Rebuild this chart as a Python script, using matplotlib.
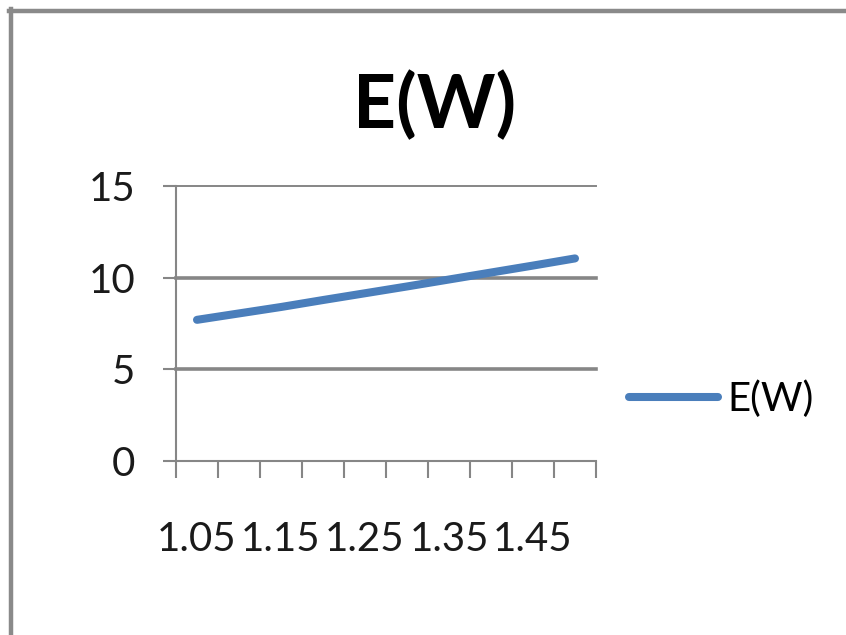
import matplotlib
matplotlib.use("Agg")
import matplotlib.pyplot as plt
from matplotlib.lines import Line2D

# Data
categories = ["1.05", "1.1", "1.15", "1.2", "1.25", "1.3", "1.35", "1.4", "1.45", "1.5"]
ew_values = [7.7, 8.05, 8.4, 8.78, 9.15, 9.52, 9.9, 10.28, 10.66, 11.05]
y_ticks = [0, 5, 10, 15]
series_name = "E(W)"
title_text = "E(W)"

W, H, DPI = 846, 635, 100
plt.rcParams["font.family"] = ["Lato", "DejaVu Sans"]

fig = plt.figure(figsize=(W / DPI, H / DPI), dpi=DPI)
fig.patch.set_facecolor("white")

# Plot area in pixel coordinates
left, right, top, bottom = 176, 596, 186, 461
ax = fig.add_axes([left / W, 1 - bottom / H, (right - left) / W, (bottom - top) / H])

grid_c = "#868686"
blue = "#4A7EBB"

x = list(range(len(categories)))
ax.plot(x, ew_values, color=blue, lw=5.8, solid_capstyle="round", label=series_name, zorder=3)

ax.set_xlim(-0.5, len(categories) - 0.5)
ax.set_ylim(0, 15)

# Horizontal gridlines
for v in y_ticks[1:]:
    ax.axhline(v, color=grid_c, lw=2.6 if v < 15 else 1.4, zorder=1, clip_on=False)

for s in ["top", "right"]:
    ax.spines[s].set_visible(False)
for s in ["left", "bottom"]:
    ax.spines[s].set_color(grid_c)
    ax.spines[s].set_linewidth(1.5)

ax.set_yticks(y_ticks)
ax.set_yticklabels([str(v) for v in y_ticks])
ax.tick_params(axis="y", length=9.5, width=1.5, color=grid_c, labelsize=29,
               pad=20, labelcolor="#1a1a1a")

# Category boundary ticks (major) and every-other label (minor)
ax.set_xticks([i - 0.5 for i in range(len(categories) + 1)])
ax.set_xticklabels([])
ax.set_xticks(x[::2], minor=True)
ax.set_xticklabels(categories[::2], minor=True)
ax.tick_params(axis="x", which="major", length=12, width=1.5, color=grid_c)
ax.tick_params(axis="x", which="minor", length=0, labelsize=29, pad=43, labelcolor="#1a1a1a")

# Title
fig.text(435 / W, 1 - 106 / H, title_text, ha="center", va="center",
         fontsize=54, fontweight="bold", color="black")

# Legend
ax.legend(loc="center left", bbox_to_anchor=(629 / W, 1 - 399 / H),
          bbox_transform=fig.transFigure, frameon=False, fontsize=29,
          handlelength=2.2, handletextpad=0.25, borderpad=0, borderaxespad=0)

# Chart frame (partially cropped)
fig.add_artist(Line2D([10.5 / W, 10.5 / W], [0, 1 - 9 / H], transform=fig.transFigure,
                      color="#8a8a8a", lw=3.2))
fig.add_artist(Line2D([9 / W, 1], [1 - 10.5 / H, 1 - 10.5 / H], transform=fig.transFigure,
                      color="#8a8a8a", lw=3.2))

fig.savefig("out.png", dpi=DPI)
